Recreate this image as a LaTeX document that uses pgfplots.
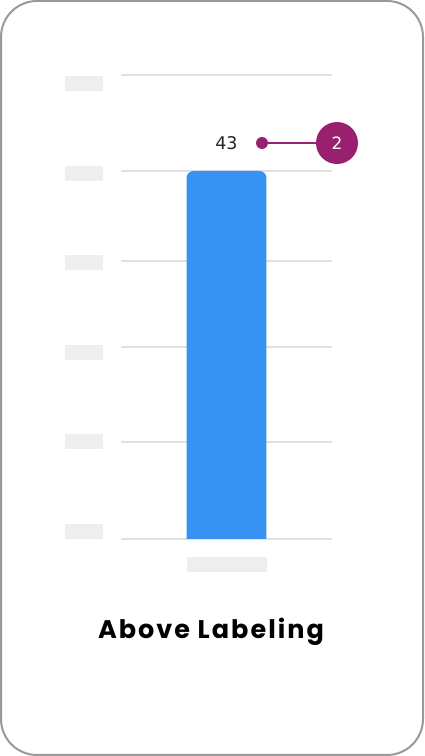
\documentclass[border=0pt]{standalone}
\usepackage{fontspec}
\setmainfont{DejaVu Sans}
\newfontfamily\titlefont{Poppins}[LetterSpace=8]
\usepackage{pgfplots}
\pgfplotsset{compat=1.18}

\definecolor{barblue}{HTML}{3892F3}
\definecolor{accent}{HTML}{98206F}
\definecolor{gridgray}{HTML}{E1E1E1}
\definecolor{phgray}{HTML}{EEEEEE}
\definecolor{cardgray}{HTML}{9A9A9A}

\begin{document}
\begin{tikzpicture}
\useasboundingbox (0,0) rectangle (424pt,756pt);
% card
\draw[cardgray, line width=2pt, rounded corners=36pt] (1pt,1pt) rectangle (423pt,755pt);
% placeholder tick labels
\foreach \y in {665,575,486,396,307,217}
  \fill[phgray] (65pt,\y pt) rectangle ++(38pt,15pt);
% placeholder category label
\fill[phgray] (187pt,184pt) rectangle ++(80pt,15pt);

\begin{axis}[
  at={(121pt,217pt)}, anchor=south west,
  scale only axis,
  width=211pt, height=464.7pt,
  xmin=-1, xmax=1,
  ymin=0, ymax=54.3,
  xtick=\empty,
  ytick={0,11.33,22.43,32.48,43,54.22},
  yticklabels={},
  ymajorgrids,
  grid style={gridgray, line width=1.6pt},
  axis line style={draw=none},
  major tick length=0pt,
  clip mode=individual,
]
% the bar (value 43), rounded on top only
\addplot[fill=barblue, draw=none, mark=none, rounded corners=7pt]
  coordinates {(-0.379,-4) (-0.379,43) (0.379,43) (0.379,-4)};

% value label and annotation marker
\node[text=black!85, font=\fontsize{17.5}{17.5}\selectfont]
  at ([yshift=28pt]axis cs:0,43) {43};
\draw[accent, line width=1.5pt]
  ([xshift=36pt,yshift=28pt]axis cs:0,43) -- ([xshift=95pt,yshift=28pt]axis cs:0,43);
\fill[accent] ([xshift=35.5pt,yshift=28pt]axis cs:0,43) circle (6pt);
\node[circle, fill=accent, minimum size=42pt, inner sep=0pt, text=white,
  font=\fontsize{17}{17}\selectfont]
  at ([xshift=110.5pt,yshift=28pt]axis cs:0,43) {2};
\end{axis}

% title
\node[anchor=base, font=\titlefont\bfseries\fontsize{25.5}{25.5}\selectfont]
  at (211pt,117pt) {Above Labeling};
\end{tikzpicture}
\end{document}
